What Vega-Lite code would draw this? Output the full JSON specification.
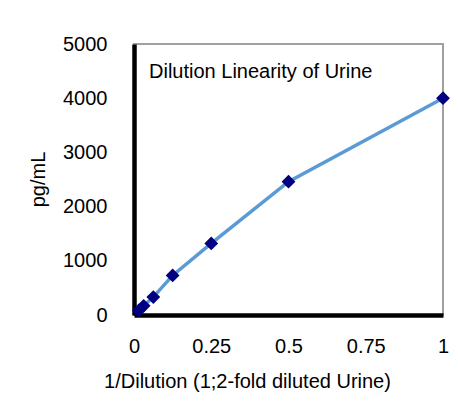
{
  "$schema": "https://vega.github.io/schema/vega-lite/v6.json",
  "width": 309,
  "height": 271,
  "autosize": {"type": "none"},
  "padding": {"left": 134, "top": 44, "right": 15, "bottom": 86},
  "background": "white",
  "config": {
    "font": "Liberation Sans",
    "view": {"stroke": "#a0a0a0", "strokeWidth": 2}
  },
  "title": {
    "text": "Dilution Linearity of Urine",
    "anchor": "start",
    "frame": "group",
    "orient": "top",
    "offset": 0,
    "dx": 15,
    "dy": 64,
    "baseline": "alphabetic",
    "fontSize": 20,
    "fontWeight": "normal",
    "font": "Liberation Sans",
    "color": "black"
  },
  "data": {
    "values": [
      {"inv_dilution": 0.015625, "pgml": 85},
      {"inv_dilution": 0.03125, "pgml": 170},
      {"inv_dilution": 0.0625, "pgml": 330},
      {"inv_dilution": 0.125, "pgml": 730},
      {"inv_dilution": 0.25, "pgml": 1320},
      {"inv_dilution": 0.5, "pgml": 2460},
      {"inv_dilution": 1, "pgml": 4000}
    ]
  },
  "encoding": {
    "x": {
      "field": "inv_dilution",
      "type": "quantitative",
      "scale": {"domain": [0, 1], "nice": false, "zero": false},
      "axis": {
        "title": "1/Dilution (1;2-fold diluted Urine)",
        "values": [0, 0.25, 0.5, 0.75, 1],
        "labelExpr": "datum.value + ''",
        "grid": false,
        "ticks": false,
        "tickSize": 0,
        "domainColor": "black",
        "domainWidth": 4.5,
        "labelFontSize": 20,
        "labelColor": "black",
        "labelPadding": 21,
        "labelBaseline": "top",
        "labelFlush": false,
        "titleFontSize": 20,
        "titleFontWeight": "normal",
        "titleColor": "black",
        "titleX": 113,
        "titleY": 56,
        "titleAlign": "center",
        "titleBaseline": "top"
      }
    },
    "y": {
      "field": "pgml",
      "type": "quantitative",
      "scale": {"domain": [0, 5000], "nice": false},
      "axis": {
        "title": "pg/mL",
        "values": [0, 1000, 2000, 3000, 4000, 5000],
        "format": "d",
        "grid": false,
        "ticks": false,
        "tickSize": 0,
        "domainColor": "black",
        "domainWidth": 4.5,
        "labelFontSize": 20,
        "labelColor": "black",
        "labelPadding": 27,
        "labelFlush": false,
        "titleFontSize": 20,
        "titleFontWeight": "normal",
        "titleColor": "black",
        "titleAngle": -90,
        "titleX": -96,
        "titleY": 135,
        "titleAlign": "center",
        "titleBaseline": "middle"
      }
    }
  },
  "layer": [
    {"mark": {"type": "line", "color": "#5b9bd5", "strokeWidth": 3.5}},
    {"mark": {"type": "point", "shape": "diamond", "filled": true, "color": "#000080", "opacity": 1, "size": 190}}
  ]
}
